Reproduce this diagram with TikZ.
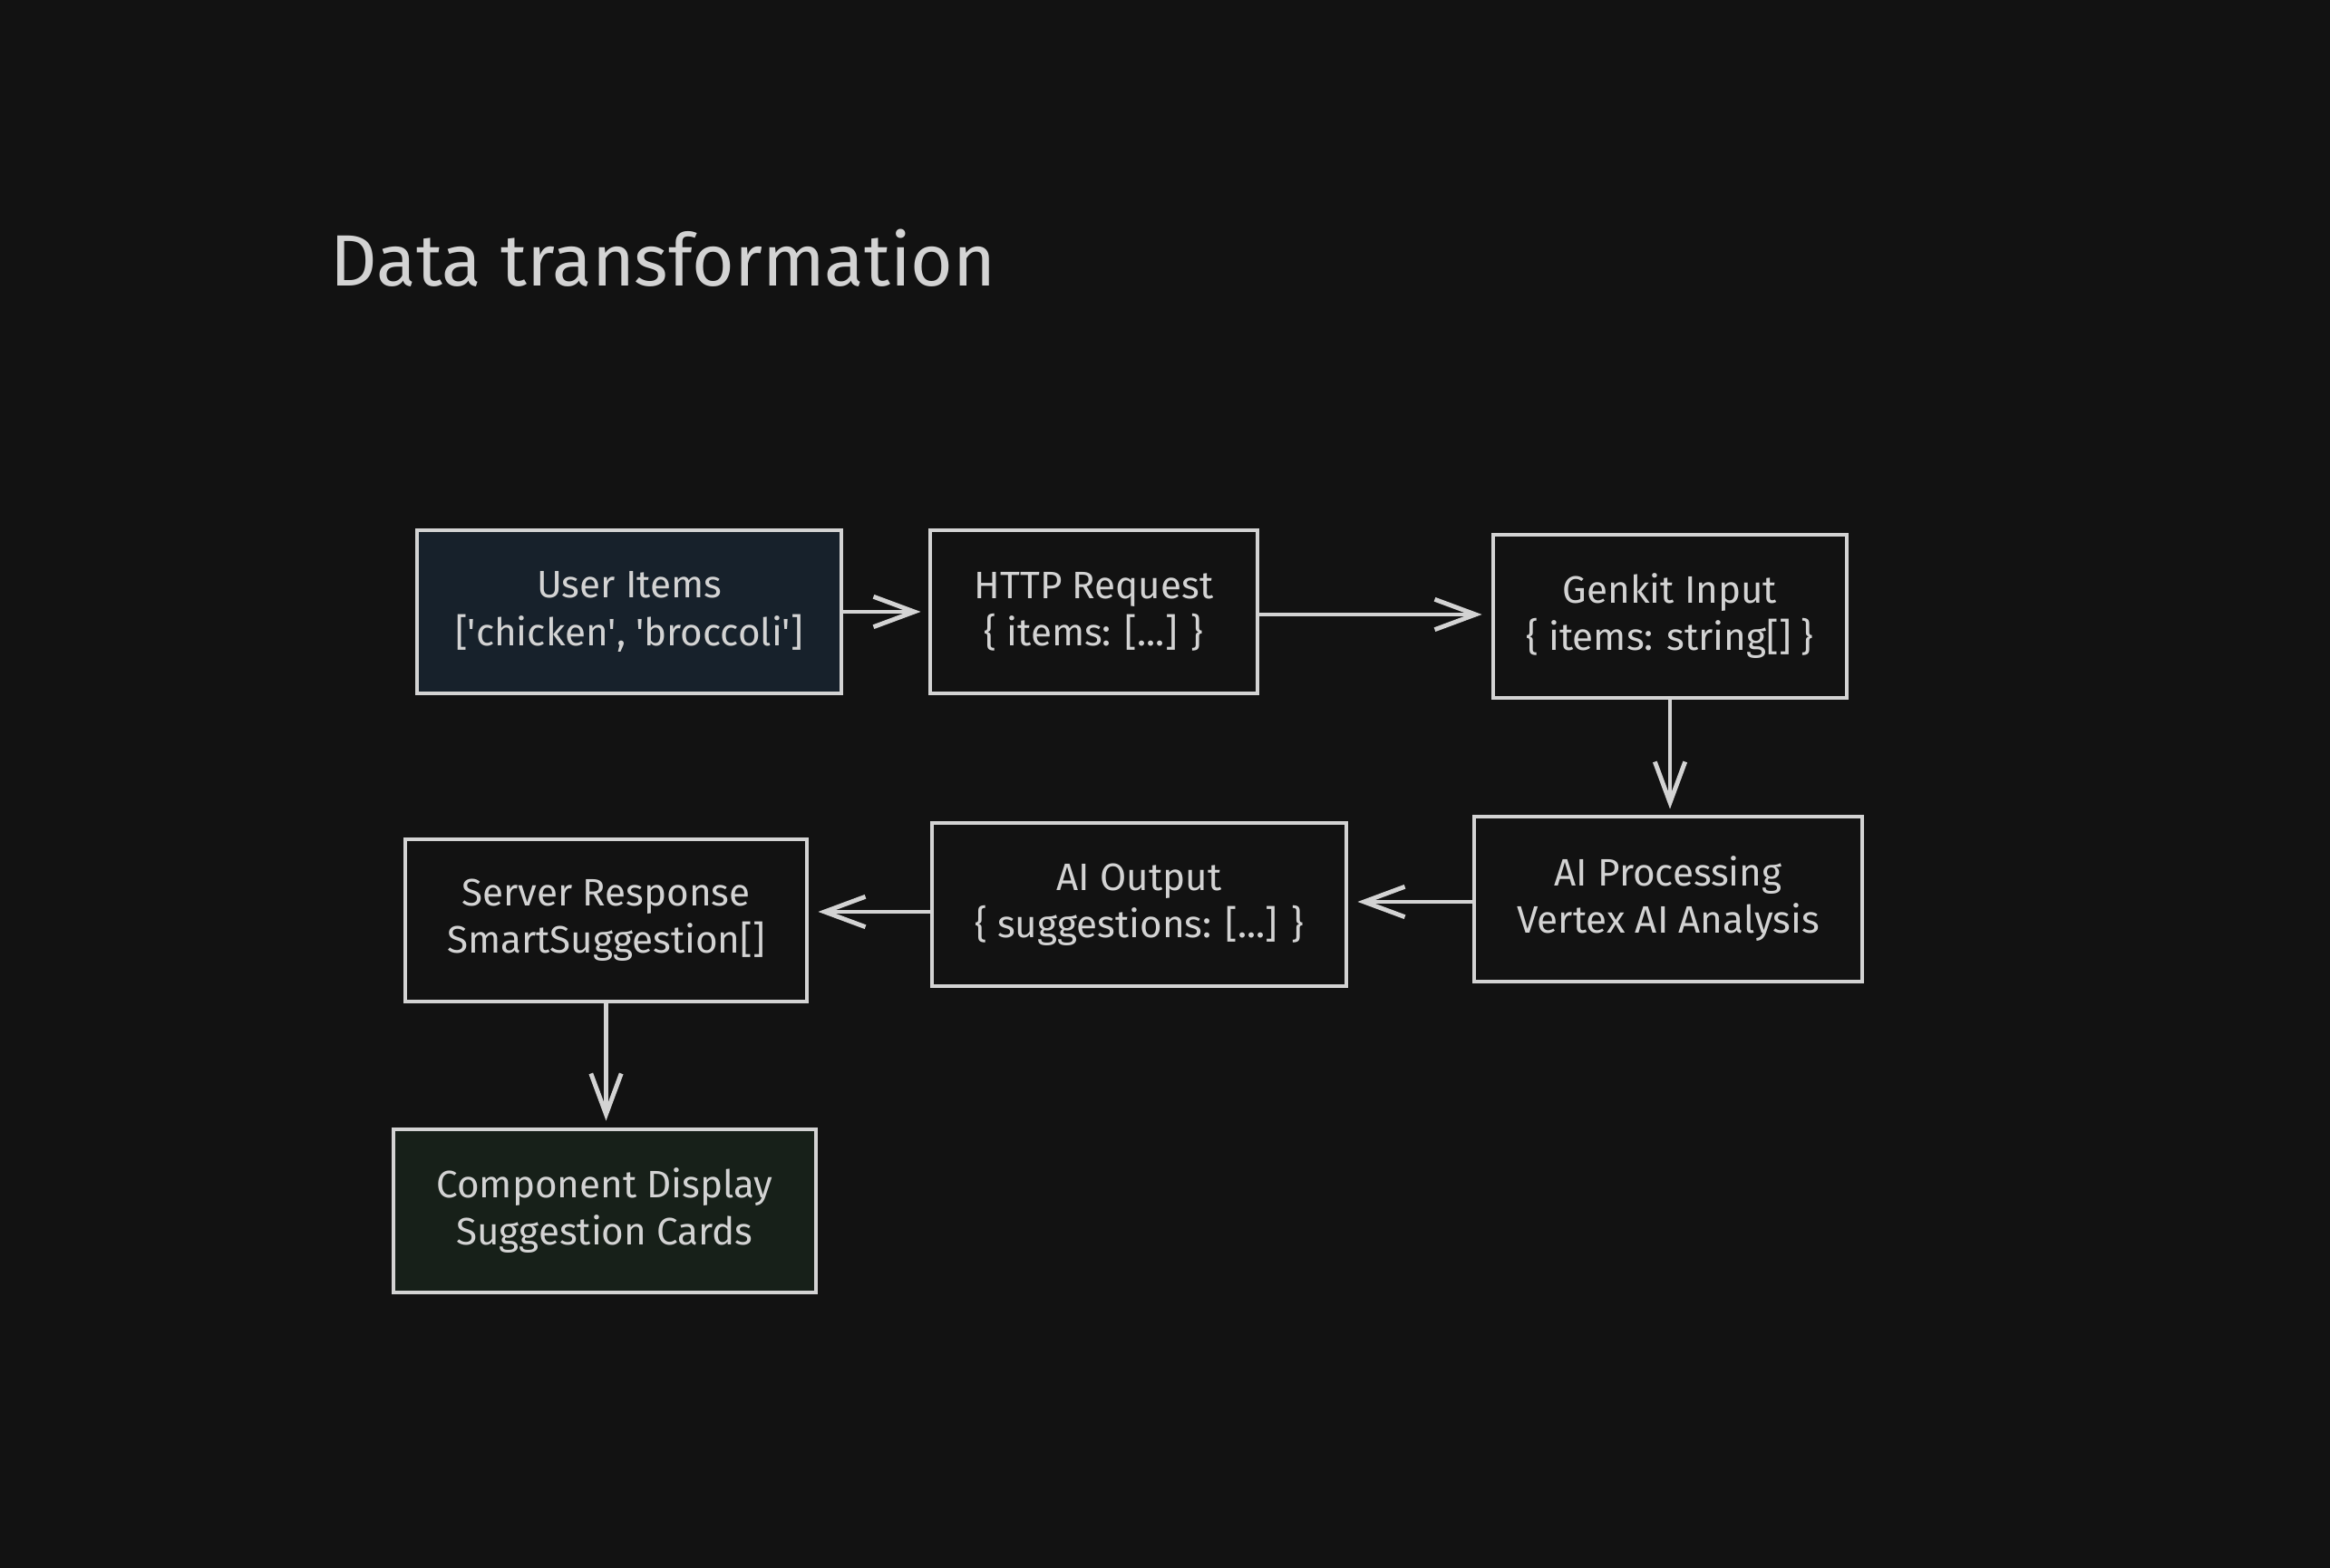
\documentclass[tikz,border=0pt]{standalone}
\usepackage{fontspec}
\setmainfont{Fira Sans}
\usetikzlibrary{arrows.meta,calc}
\definecolor{bg}{HTML}{121212}
\definecolor{ink}{HTML}{D3D3D3}
\definecolor{navy}{HTML}{17212B}
\definecolor{moss}{HTML}{172019}
\begin{document}
\begin{tikzpicture}[x=1cm,y=1cm,
  box/.style={draw=ink, line width=1.4pt, fill=bg, rectangle, text=ink, align=center,
    font=\fontsize{12}{14.8}\selectfont, inner sep=0pt},
  arr/.style={draw=ink, line width=1.4pt, -{Straight Barb[length=12.8pt,width=9.5pt]}}]
\fill[bg] (0,0) rectangle (25.7,17.3);
\useasboundingbox (0,0) rectangle (25.7,17.3);
\node[anchor=base west, inner sep=0pt, text=ink, font=\fontsize{22.8}{28}\selectfont] (title) at (3.64,14.14) {Data transformation};
\node[box, fill=navy, minimum width=4.68cm, minimum height=1.80cm] (ui) at (6.94,10.55) {User Items\\{}[\textquotesingle chicken\textquotesingle, \textquotesingle broccoli\textquotesingle]};
\node[box, minimum width=3.61cm, minimum height=1.80cm] (http) at (12.065,10.55) {HTTP Request\\\{ items: [...] \}};
\node[box, minimum width=3.90cm, minimum height=1.80cm] (gen) at (18.42,10.50) {Genkit Input\\\{ items: string[] \}};
\node[box, minimum width=4.28cm, minimum height=1.82cm] (aip) at (18.40,7.38) {AI Processing\\Vertex AI Analysis};
\node[box, minimum width=4.57cm, minimum height=1.80cm] (aio) at (12.565,7.32) {AI Output\\\{ suggestions: [...] \}};
\node[box, minimum width=4.43cm, minimum height=1.79cm] (srv) at (6.685,7.145) {Server Response\\SmartSuggestion[]};
\node[box, fill=moss, minimum width=4.66cm, minimum height=1.80cm] (cmp) at (6.67,3.94) {Component Display\\Suggestion Cards};
\draw[arr, shorten >=0.08cm] (ui.east) -- (http.west);
\draw[arr, shorten >=0.10cm] ($(http.east)+(0,-0.03)$) -- ($(http.east -| gen.west)+(0,-0.03)$);
\draw[arr, shorten >=0.06cm] (gen.south) -- (gen.south |- aip.north);
\draw[arr, shorten >=0.10cm] ($(aip.west)+(0,-0.03)$) -- ($(aip.west -| aio.east)+(0,-0.03)$);
\draw[arr, shorten >=0.10cm] ($(aio.west)+(0,-0.08)$) -- ($(aio.west -| srv.east)+(0,-0.08)$);
\draw[arr, shorten >=0.07cm] (srv.south) -- (srv.south |- cmp.north);
\end{tikzpicture}
\end{document}
